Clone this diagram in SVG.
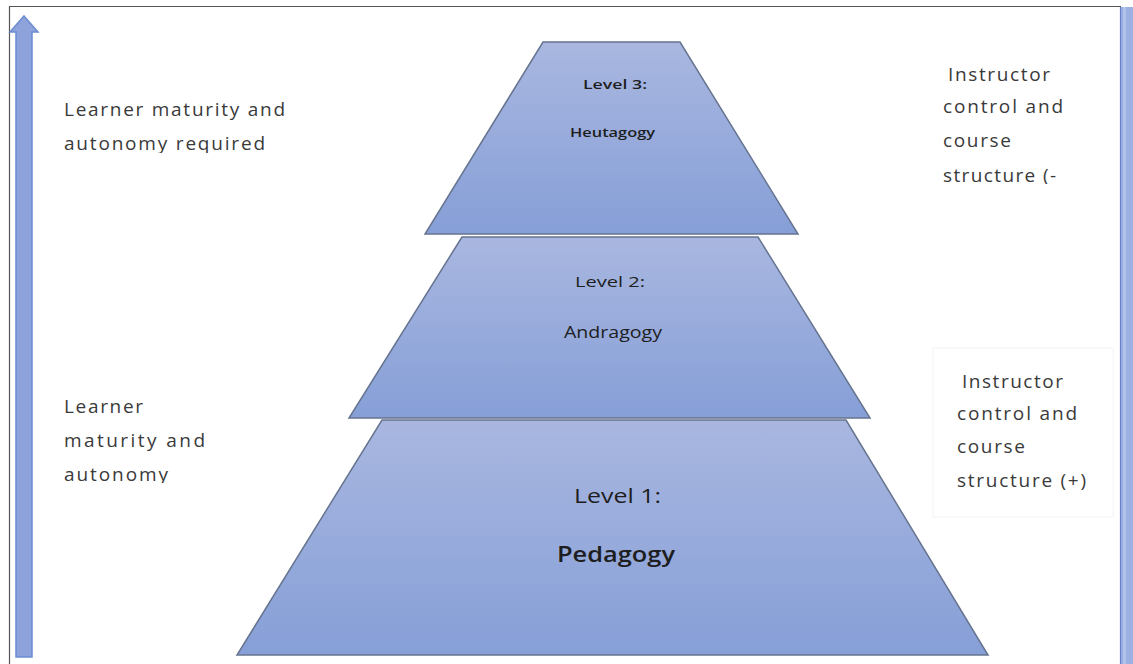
<svg xmlns="http://www.w3.org/2000/svg" width="1133" height="664" viewBox="0 0 1133 664">
  <defs>
    <linearGradient id="tierFill" x1="0" y1="0" x2="0" y2="1">
      <stop offset="0" stop-color="#a9b7e0"/>
      <stop offset="1" stop-color="#869fd7"/>
    </linearGradient>
    <clipPath id="clipTopRight"><rect x="900" y="40" width="200" height="144"/></clipPath>
    <clipPath id="clipLowLeft"><rect x="40" y="380" width="220" height="103"/></clipPath>
    <clipPath id="clipTopLeft"><rect x="40" y="80" width="260" height="73"/></clipPath>
  </defs>
  <style>
    .tier { fill: url(#tierFill); stroke: #66748f; stroke-width: 1.5; stroke-linejoin: miter; }
    .side { font-family: "Open Sans", "Liberation Sans", sans-serif; font-size: 19px; fill: #3a3a3a; }
    .lvl { font-family: "Open Sans", "Liberation Sans", sans-serif; fill: #1e1e1e; text-anchor: start; }
  </style>

  <rect width="1133" height="664" fill="#ffffff"/>

  <!-- frame -->
  <g id="frame">
    <line x1="9.5" y1="6" x2="9.5" y2="664" stroke="#555" stroke-width="1.2"/>
    <line x1="9" y1="6.5" x2="1121" y2="6.5" stroke="#555" stroke-width="1.2"/>
    <rect x="1120" y="7" width="13" height="657" fill="#9db0e2"/>
    <rect x="1123" y="7" width="3" height="657" fill="#b3c2ea"/>
    <line x1="1120.5" y1="7" x2="1120.5" y2="664" stroke="#6580c8" stroke-width="1.2"/>
  </g>

  <!-- upward arrow on the left -->
  <g id="arrow">
    <path d="M24,16 L38,32 L32,32 L32,657 L16,657 L16,32 L10,32 Z" fill="#8ea3dc" stroke="#6d8cd2" stroke-width="1.5" stroke-linejoin="miter"/>
  </g>

  <!-- pyramid tiers, drawn bottom to top -->
  <g id="level1">
    <polygon class="tier" points="382,420 846,420 988,655 237,655"/>
    <text class="lvl" x="574" y="503" font-size="20" textLength="87" lengthAdjust="spacingAndGlyphs">Level 1:</text>
    <text class="lvl" x="557" y="562" font-size="21" font-weight="600" textLength="118" lengthAdjust="spacingAndGlyphs">Pedagogy</text>
  </g>
  <g id="level2">
    <polygon class="tier" points="462,237 758,237 870,418 349,418"/>
    <text class="lvl" x="575" y="287" font-size="15" textLength="70" lengthAdjust="spacingAndGlyphs">Level 2:</text>
    <text class="lvl" x="564" y="338" font-size="15.5" font-weight="500" textLength="98" lengthAdjust="spacingAndGlyphs">Andragogy</text>
  </g>
  <g id="level3">
    <polygon class="tier" points="543,42 680,42 798,234 425,234"/>
    <text class="lvl" x="583" y="89" font-size="12" font-weight="600" textLength="64" lengthAdjust="spacingAndGlyphs">Level 3:</text>
    <text class="lvl" x="570" y="137" font-size="12" font-weight="600" textLength="85" lengthAdjust="spacingAndGlyphs">Heutagogy</text>
  </g>

  <!-- left-hand labels -->
  <g id="label-top-left" clip-path="url(#clipTopLeft)">
    <text class="side" x="64" y="116" textLength="221" lengthAdjust="spacing">Learner maturity and</text>
    <text class="side" x="64" y="150" textLength="201" lengthAdjust="spacing">autonomy required</text>
  </g>
  <g id="label-low-left" clip-path="url(#clipLowLeft)">
    <text class="side" x="64" y="413" textLength="79" lengthAdjust="spacing">Learner</text>
    <text class="side" x="64" y="447" textLength="141" lengthAdjust="spacing">maturity  and</text>
    <text class="side" x="64" y="481" textLength="104" lengthAdjust="spacing">autonomy</text>
  </g>

  <!-- right-hand labels -->
  <g id="label-top-right" clip-path="url(#clipTopRight)">
    <text class="side" x="948" y="81" textLength="102" lengthAdjust="spacing">Instructor</text>
    <text class="side" x="943" y="113" textLength="120" lengthAdjust="spacing">control and</text>
    <text class="side" x="943" y="147" textLength="68" lengthAdjust="spacing">course</text>
    <text class="side" x="943" y="182" textLength="113" lengthAdjust="spacing">structure (-</text>
  </g>
  <g id="label-low-right">
    <rect x="933" y="348" width="180" height="169" fill="#ffffff" stroke="#f4f4f4" stroke-width="1"/>
    <text class="side" x="962" y="388" textLength="101" lengthAdjust="spacing">Instructor</text>
    <text class="side" x="957" y="420" textLength="120" lengthAdjust="spacing">control and</text>
    <text class="side" x="957" y="453" textLength="68" lengthAdjust="spacing">course</text>
    <text class="side" x="957" y="487" textLength="129" lengthAdjust="spacing">structure (+)</text>
  </g>
</svg>
